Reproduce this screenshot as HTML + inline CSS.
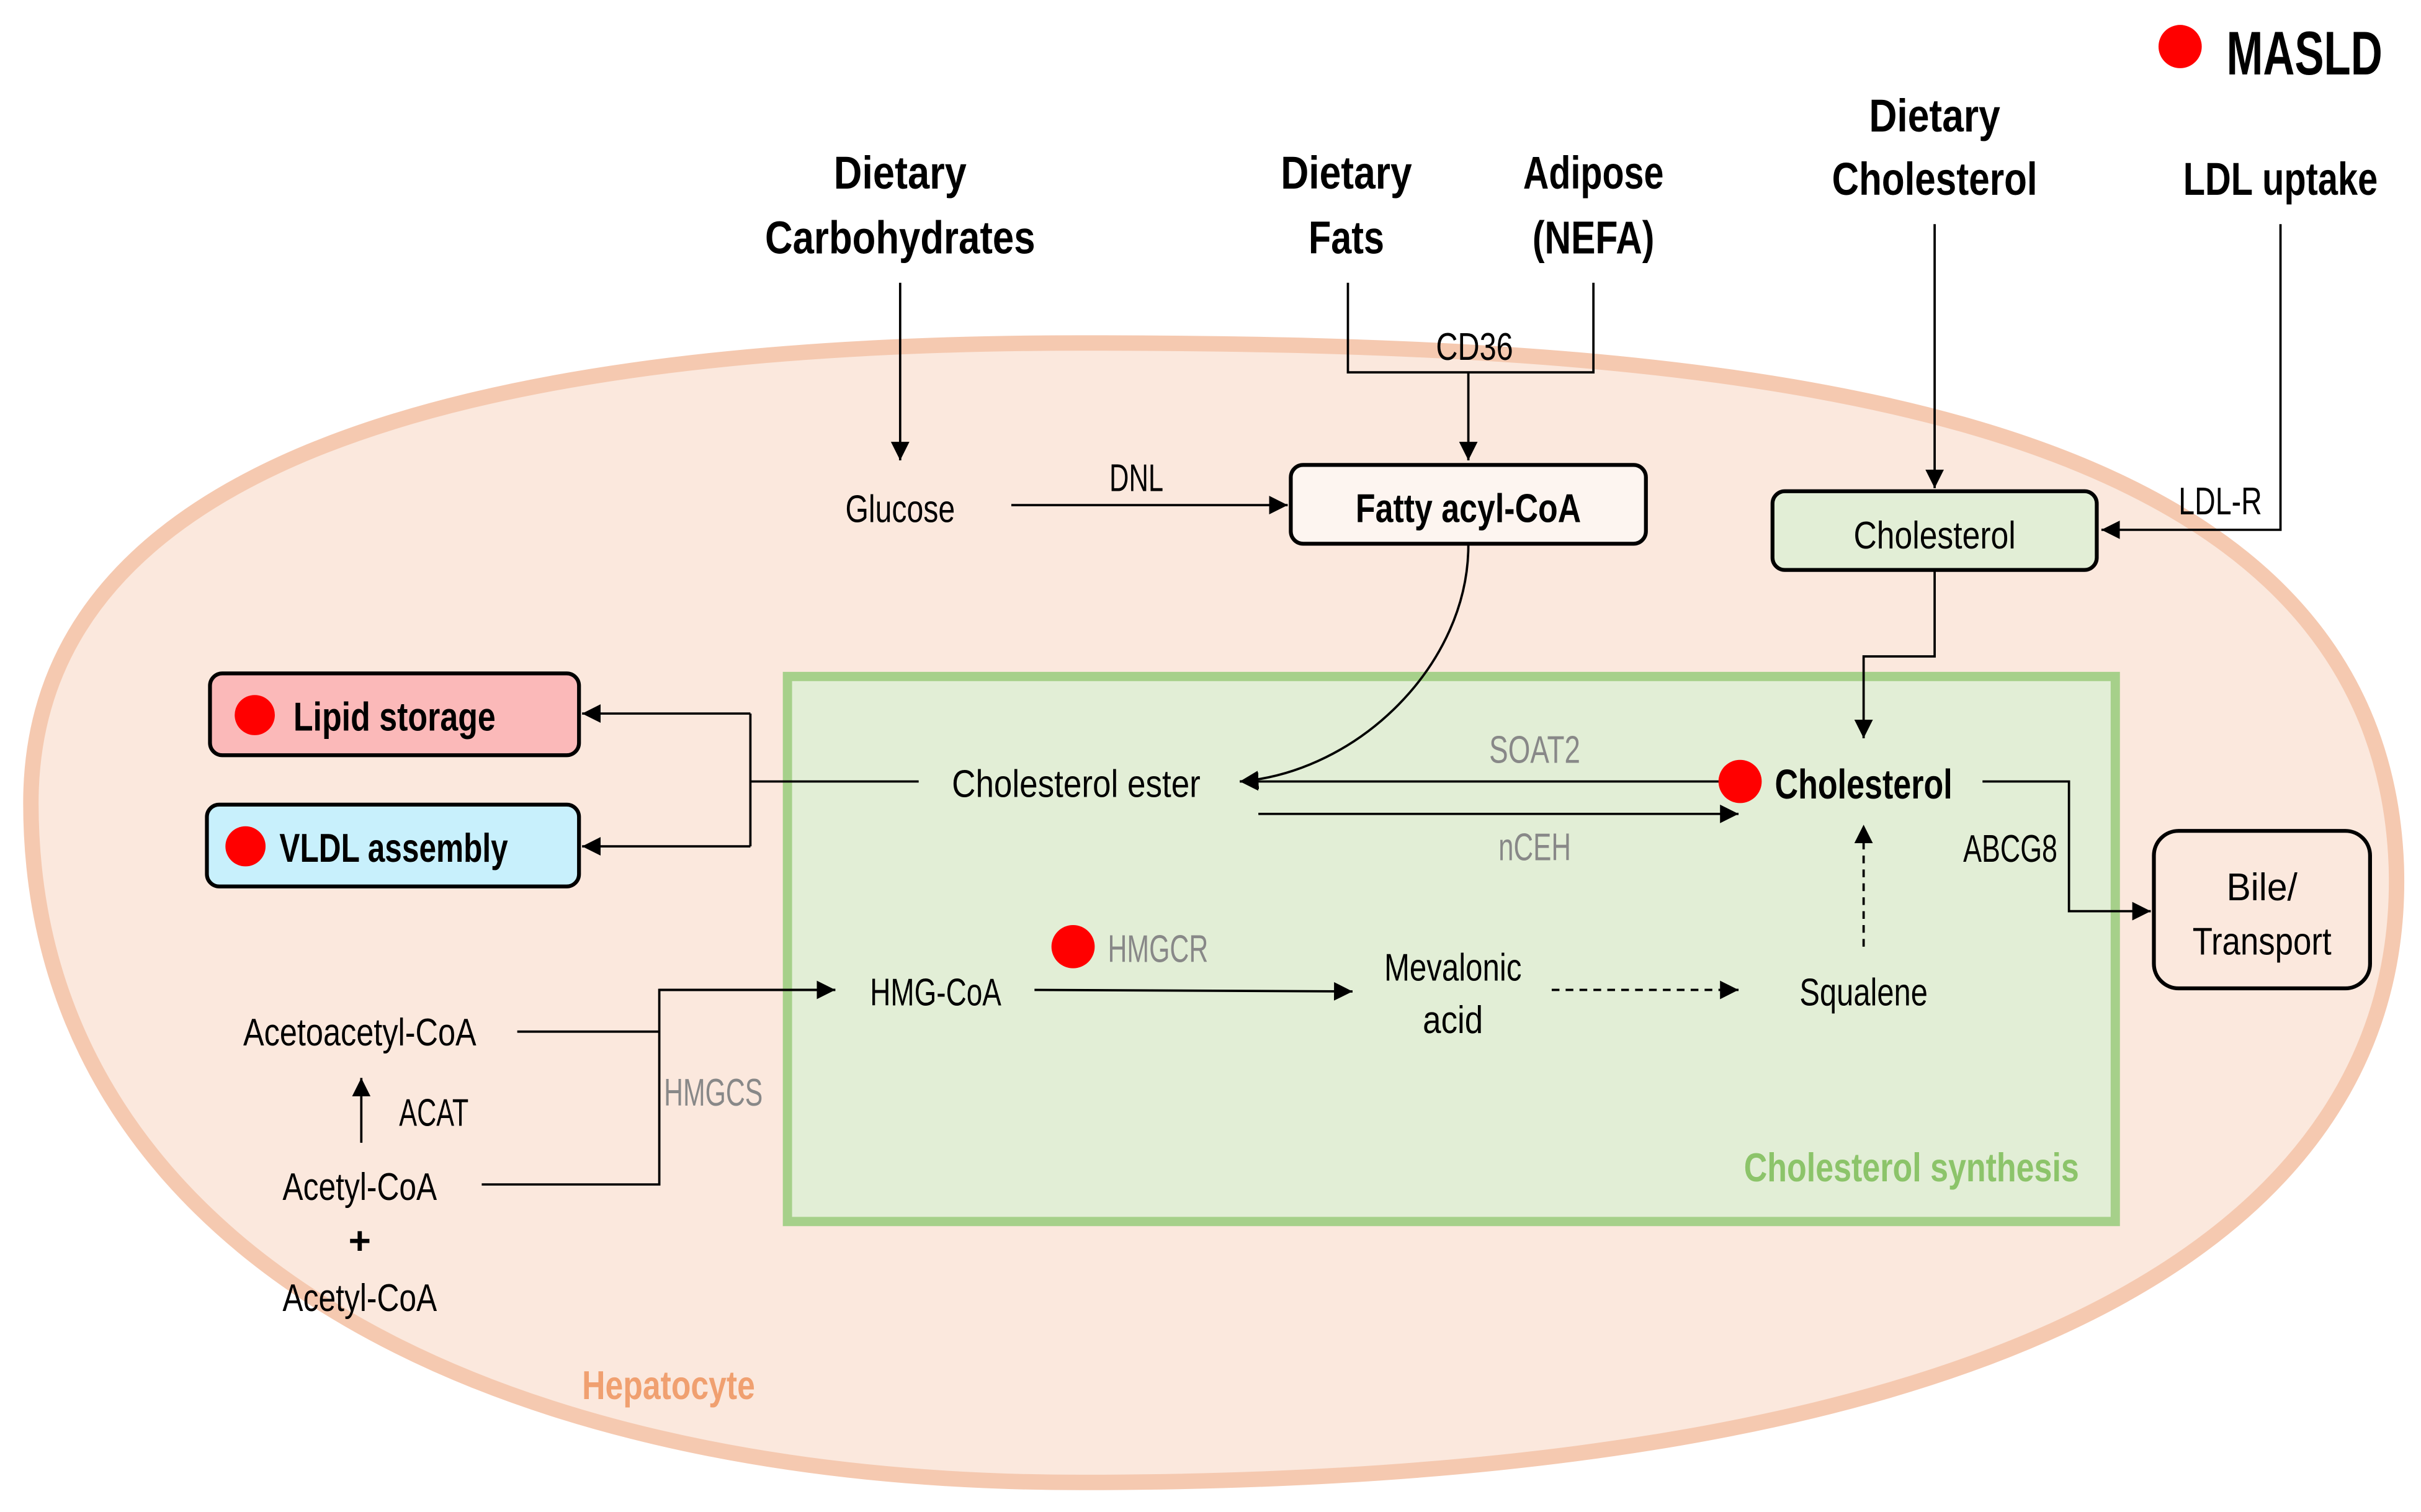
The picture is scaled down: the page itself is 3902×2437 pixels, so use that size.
<!DOCTYPE html>
<html><head><meta charset="utf-8"><style>
html,body{margin:0;padding:0;background:#fff;}
svg{display:block;}
text{font-family:"Liberation Sans Narrow","Liberation Sans",sans-serif;}
</style></head><body>
<svg width="3902" height="2437" viewBox="0 0 1568 979" xmlns="http://www.w3.org/2000/svg">
<defs>
<marker id="a" viewBox="0 0 10 10" refX="10" refY="5" markerWidth="12" markerHeight="12" markerUnits="userSpaceOnUse" orient="auto"><path d="M0,0 L10,5 L0,10 z" fill="#000"/></marker>
</defs>
<path d="M20 520 C20 300 300 222 700 222 C1100 222 1540 250 1552 560 C1560 800 1300 960 700 960 C300 960 20 800 20 520 Z" fill="#fbe8dd" stroke="#f5c9b0" stroke-width="10"/>
<rect x="510" y="438" width="860" height="353" fill="#e2eed6" stroke="#a6d08a" stroke-width="6"/>

<g fill="none" stroke="#000" stroke-width="1.5">
<path d="M583 183 V298" marker-end="url(#a)"/>
<path d="M873 183 V241 H1032 V183"/>
<path d="M951 241 V298" marker-end="url(#a)"/>
<path d="M655 327 H834" marker-end="url(#a)"/>
<path d="M1253 145 V316" marker-end="url(#a)"/>
<path d="M1477 145 V343 H1361" marker-end="url(#a)"/>
<path d="M951 353 C951 430 880 500 803 506" marker-end="url(#a)"/>
<path d="M1253 370 V425 H1207 V478" marker-end="url(#a)"/>
<path d="M595 506 H486"/>
<path d="M486 462 V548"/>
<path d="M486 462 H377" marker-end="url(#a)"/>
<path d="M486 548 H377" marker-end="url(#a)"/>
<path d="M1115 506 H803" marker-end="url(#a)"/>
<path d="M815 527 H1126" marker-end="url(#a)"/>
<path d="M1284 506 H1340 V590 H1393" marker-end="url(#a)"/>
<path d="M670 641 L876 642" marker-end="url(#a)"/>
<path d="M1005 641 H1126" stroke-dasharray="5,4" marker-end="url(#a)"/>
<path d="M1207 613 V534" stroke-dasharray="5,4" marker-end="url(#a)"/>
<path d="M335 668 H427 M312 767 H427 V641 H541" />
<path d="M427 641 H541" marker-end="url(#a)"/>
<path d="M234 740 V698" marker-end="url(#a)"/>
</g>

<rect x="836" y="301" width="230" height="51" rx="8" fill="#fdf5f0" stroke="#000" stroke-width="2.5"/>
<rect x="1148" y="318" width="210" height="51" rx="8" fill="#e2eed6" stroke="#000" stroke-width="2.5"/>
<rect x="136" y="436" width="239" height="53" rx="8" fill="#fbb9b9" stroke="#000" stroke-width="2.5"/>
<rect x="134" y="521" width="241" height="53" rx="8" fill="#c8f0fc" stroke="#000" stroke-width="2.5"/>
<rect x="1395" y="538" width="140" height="102" rx="16" fill="#fbe8dd" stroke="#000" stroke-width="2.5"/>

<g fill="#f00">
<circle cx="1412" cy="30" r="14"/>
<circle cx="165" cy="463" r="13"/>
<circle cx="159" cy="548" r="13"/>
<circle cx="1127" cy="506" r="14"/>
<circle cx="695" cy="613" r="14"/>
</g>

<g text-anchor="middle" font-weight="bold" font-size="30" fill="#000" lengthAdjust="spacingAndGlyphs">
<text x="583" y="122" textLength="86" lengthAdjust="spacingAndGlyphs">Dietary</text>
<text x="583" y="164" textLength="175" lengthAdjust="spacingAndGlyphs">Carbohydrates</text>
<text x="872" y="122" textLength="85" lengthAdjust="spacingAndGlyphs">Dietary</text>
<text x="872" y="164" textLength="49" lengthAdjust="spacingAndGlyphs">Fats</text>
<text x="1032" y="122" textLength="91" lengthAdjust="spacingAndGlyphs">Adipose</text>
<text x="1032" y="164" textLength="79" lengthAdjust="spacingAndGlyphs">(NEFA)</text>
<text x="1253" y="85" textLength="85" lengthAdjust="spacingAndGlyphs">Dietary</text>
<text x="1253" y="126" textLength="133" lengthAdjust="spacingAndGlyphs">Cholesterol</text>
<text x="1477" y="126" textLength="126" lengthAdjust="spacingAndGlyphs">LDL uptake</text>
</g>
<text x="1442" y="48" font-weight="bold" font-size="40" textLength="101" lengthAdjust="spacingAndGlyphs">MASLD</text>

<g font-size="25" fill="#000" text-anchor="middle">
<text x="583" y="338" textLength="71" lengthAdjust="spacingAndGlyphs">Glucose</text>
<text x="736" y="318" textLength="35" lengthAdjust="spacingAndGlyphs">DNL</text>
<text x="955" y="233" textLength="50" lengthAdjust="spacingAndGlyphs">CD36</text>
<text x="1438" y="333" textLength="54" lengthAdjust="spacingAndGlyphs">LDL-R</text>
<text x="1253" y="355" textLength="105" lengthAdjust="spacingAndGlyphs">Cholesterol</text>
<text x="697" y="516" textLength="161" lengthAdjust="spacingAndGlyphs">Cholesterol ester</text>
<text x="1302" y="558" textLength="61" lengthAdjust="spacingAndGlyphs">ABCG8</text>
<text x="1465" y="583" textLength="46" lengthAdjust="spacingAndGlyphs">Bile/</text>
<text x="1465" y="618" textLength="90" lengthAdjust="spacingAndGlyphs">Transport</text>
<text x="606" y="651" textLength="85" lengthAdjust="spacingAndGlyphs">HMG-CoA</text>
<text x="941" y="635" textLength="89" lengthAdjust="spacingAndGlyphs">Mevalonic</text>
<text x="941" y="669" textLength="39" lengthAdjust="spacingAndGlyphs">acid</text>
<text x="1207" y="651" textLength="83" lengthAdjust="spacingAndGlyphs">Squalene</text>
<text x="233" y="677" textLength="151" lengthAdjust="spacingAndGlyphs">Acetoacetyl-CoA</text>
<text x="281" y="729" textLength="45" lengthAdjust="spacingAndGlyphs">ACAT</text>
<text x="233" y="777" textLength="100" lengthAdjust="spacingAndGlyphs">Acetyl-CoA</text>
<text x="233" y="812" font-weight="bold">+</text>
<text x="233" y="849" textLength="100" lengthAdjust="spacingAndGlyphs">Acetyl-CoA</text>
</g>
<g font-size="25" fill="#888" text-anchor="middle">
<text x="994" y="494" textLength="59" lengthAdjust="spacingAndGlyphs">SOAT2</text>
<text x="994" y="557" textLength="47" lengthAdjust="spacingAndGlyphs">nCEH</text>
<text x="750" y="623" textLength="65" lengthAdjust="spacingAndGlyphs">HMGCR</text>
<text x="462" y="716" textLength="64" lengthAdjust="spacingAndGlyphs">HMGCS</text>
</g>
<g font-weight="bold" font-size="26">
<text x="951" y="338" text-anchor="middle" textLength="146" lengthAdjust="spacingAndGlyphs">Fatty acyl-CoA</text>
<text x="190" y="473" textLength="131" lengthAdjust="spacingAndGlyphs">Lipid storage</text>
<text x="181" y="558" textLength="148" lengthAdjust="spacingAndGlyphs">VLDL assembly</text>
<text x="1207" y="517" text-anchor="middle" font-size="27" textLength="115" lengthAdjust="spacingAndGlyphs">Cholesterol</text>
<text x="1238" y="765" text-anchor="middle" fill="#8cc46a" textLength="217" lengthAdjust="spacingAndGlyphs">Cholesterol synthesis</text>
<text x="433" y="906" text-anchor="middle" fill="#f0a070" textLength="112" lengthAdjust="spacingAndGlyphs">Hepatocyte</text>
</g>
</svg>
</body></html>
